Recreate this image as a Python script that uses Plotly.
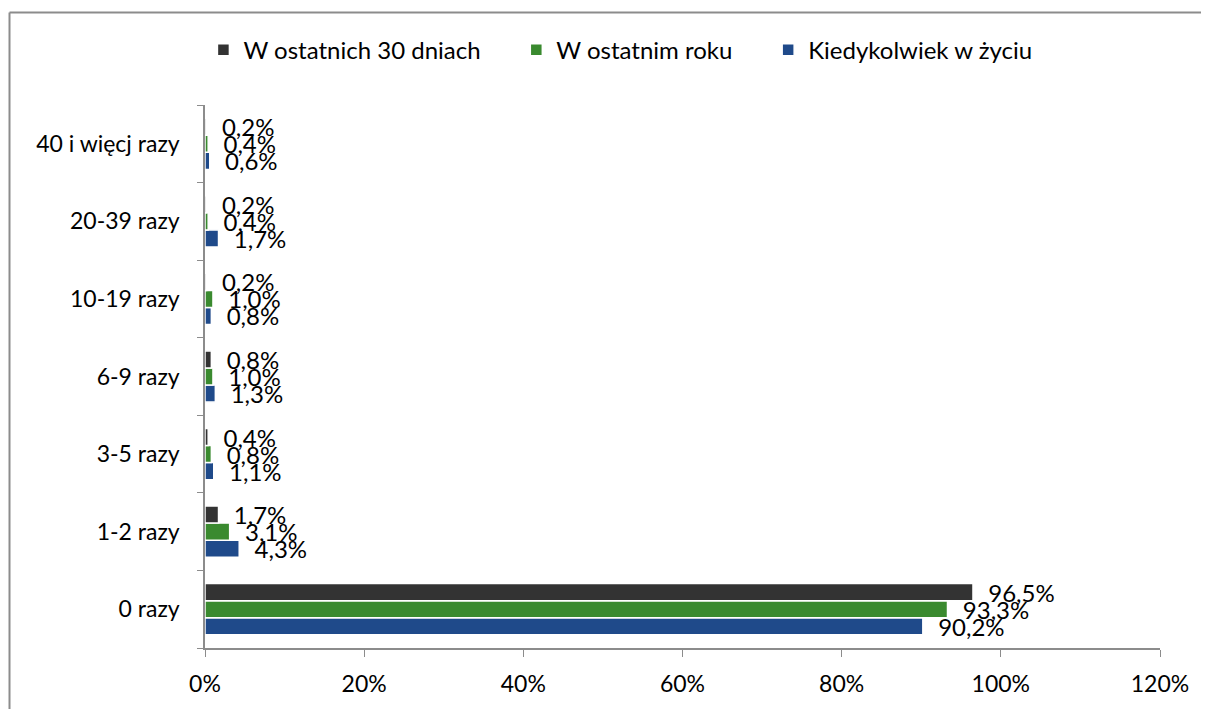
import plotly.graph_objects as go

categories = ["0 razy", "1-2 razy", "3-5 razy", "6-9 razy", "10-19 razy", "20-39 razy", "40 i więcj razy"]
series_names = ["Kiedykolwiek w życiu", "W ostatnim roku", "W ostatnich 30 dniach"]
kiedykolwiek = [90.2, 4.3, 1.1, 1.3, 0.8, 1.7, 0.6]
ostatni_rok = [93.3, 3.1, 0.8, 1.0, 1.0, 0.4, 0.4]
ostatnie_30 = [96.5, 1.7, 0.4, 0.8, 0.2, 0.2, 0.2]
colors = ["#1F4A8A", "#3A8A2F", "#333333"]
x_ticks = [0, 20, 40, 60, 80, 100, 120]

FONT = "Lato, Carlito, 'Open Sans', sans-serif"
legend_pad = ["", "\u00a0" * 5, "\u00a0" * 5]

fig = go.Figure()
for name, vals, col, pad in zip(series_names, [kiedykolwiek, ostatni_rok, ostatnie_30], colors, legend_pad):
    fig.add_trace(go.Bar(
        y=categories, x=vals, name=name + pad, orientation="h",
        marker=dict(color=col, line=dict(color="white", width=1.5)),
        text=["\u00a0\u00a0" + ("%.1f%%" % v).replace(".", ",") for v in vals],
        textposition="outside", constraintext="none", cliponaxis=False,
        textfont=dict(size=24, color="#000000", family=FONT),
    ))

border = dict(color="#8C8C8C", width=2)
fig.update_layout(
    width=1201, height=701,
    paper_bgcolor="white", plot_bgcolor="white",
    margin=dict(l=197, r=49, t=97, b=61, autoexpand=False),
    barmode="group", bargap=0.34, bargroupgap=0.0,
    font=dict(family=FONT, size=24, color="#000000"),
    legend=dict(orientation="h", traceorder="reversed", x=0.435, xanchor="center",
                y=1.101, yanchor="middle", font=dict(size=24), itemwidth=30,
                bgcolor="rgba(0,0,0,0)"),
    showlegend=True,
    xaxis=dict(range=[0, 120], tickvals=x_ticks, ticktext=[f"{t}%" for t in x_ticks],
               showgrid=False, zeroline=False, showline=True, linecolor="#8C8C8C", linewidth=1.5,
               ticks="outside", ticklen=7, tickcolor="#8C8C8C", tickfont=dict(size=23),
               ticklabelstandoff=8, automargin=False),
    yaxis=dict(categoryorder="array", categoryarray=categories, showgrid=False,
               showline=True, linecolor="#8C8C8C", linewidth=1.5, ticks="outside",
               tickson="boundaries", ticklen=6, tickcolor="#8C8C8C", tickfont=dict(size=23),
               ticklabelstandoff=19, automargin=False),
    shapes=[
        dict(type="line", xref="paper", yref="paper", x0=-0.2047, x1=-0.2047,
             y0=-0.118, y1=1.1703, line=border, layer="below"),
        dict(type="line", xref="paper", yref="paper", x0=-0.2047, x1=1.06,
             y0=1.1703, y1=1.1703, line=border, layer="below"),
    ],
)

fig.write_html("out.html")
